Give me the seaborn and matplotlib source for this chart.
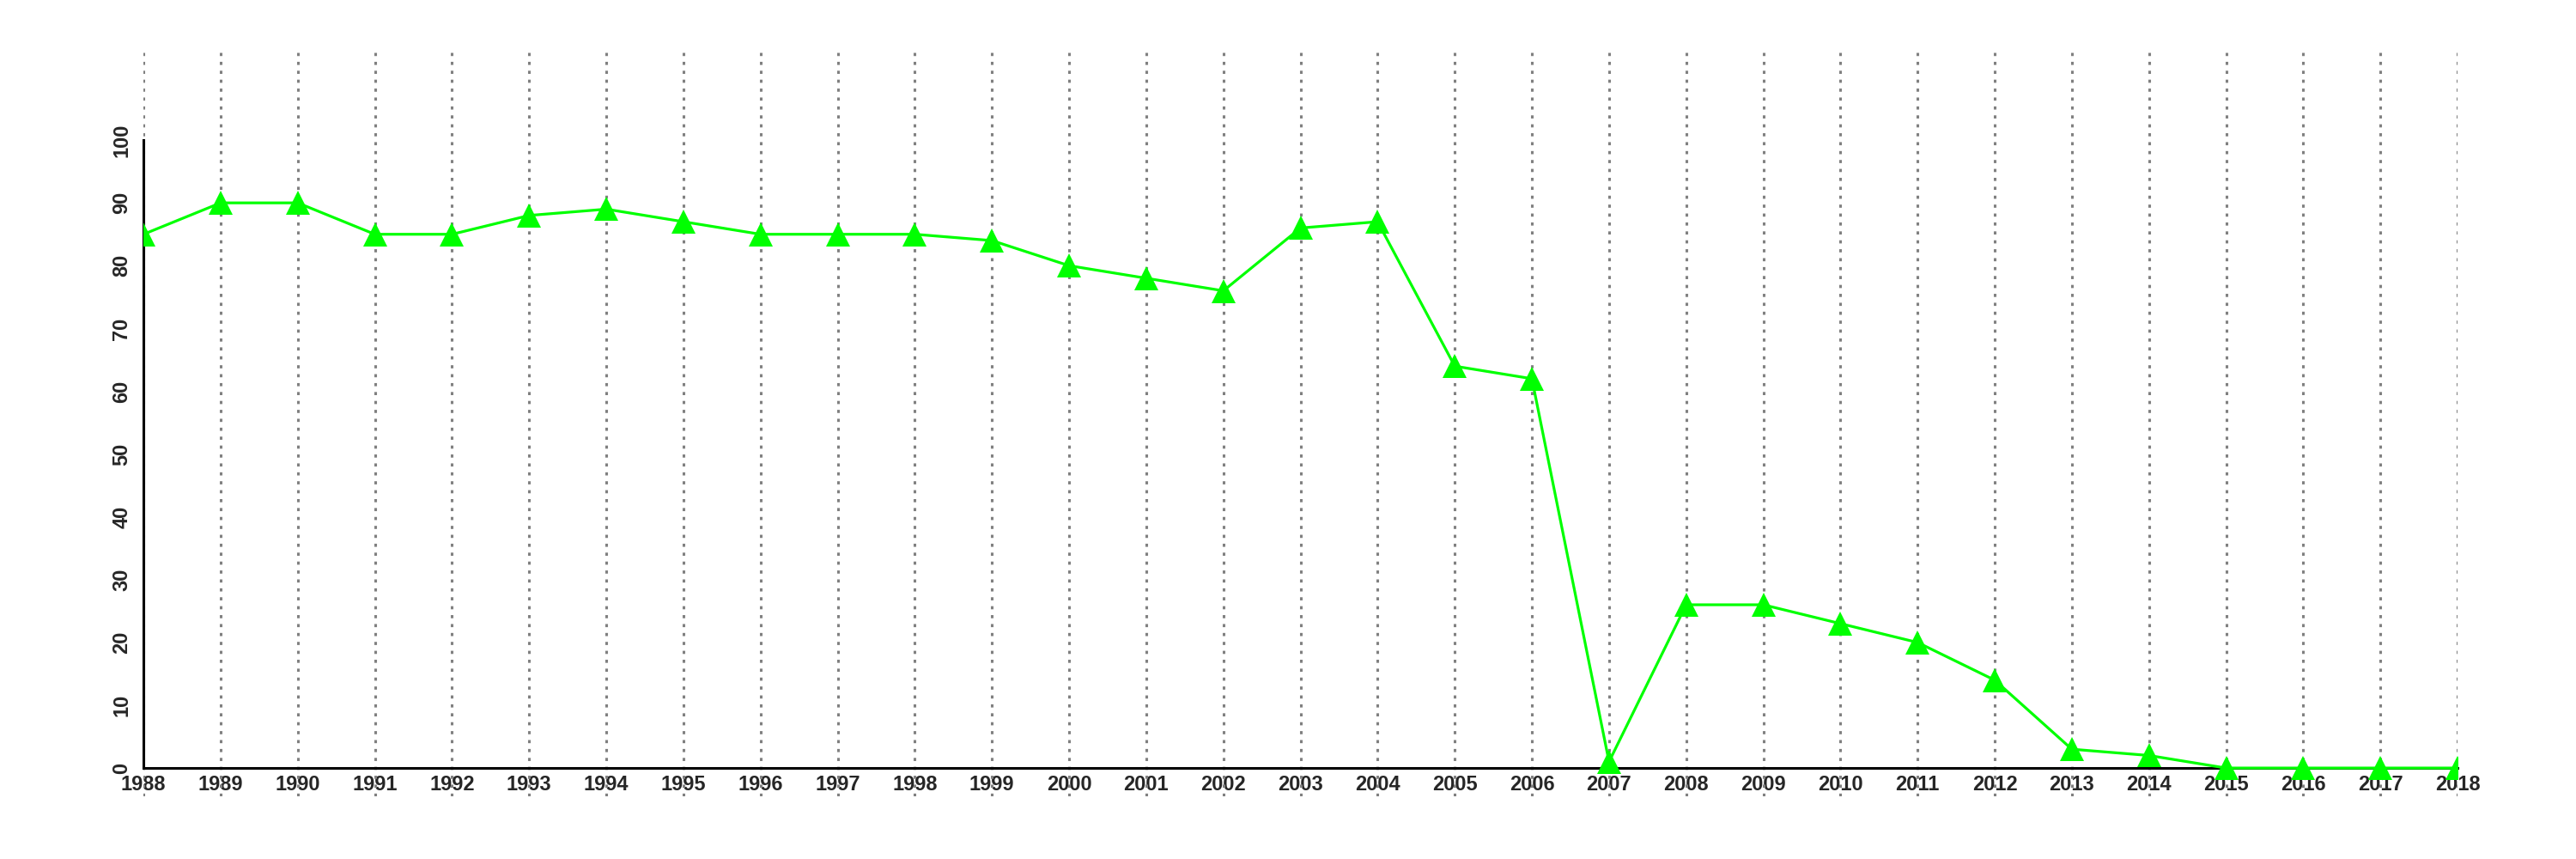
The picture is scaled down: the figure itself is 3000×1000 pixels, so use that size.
import pandas as pd
import matplotlib
matplotlib.use("Agg")
import matplotlib.pyplot as plt
import seaborn as sns

years = list(range(1988, 2019))
values = [85, 90, 90, 85, 85, 88, 89, 87, 85, 85, 85, 84, 80, 78, 76, 86, 87,
          64, 62, 1, 26, 26, 23, 20, 14, 3, 2, 0, 0, 0, 0]
y_ticks = [0, 10, 20, 30, 40, 50, 60, 70, 80, 90, 100]

df = pd.DataFrame({"year": years, "value": values})

sns.set_style("white")
plt.rcParams["font.family"] = ["Liberation Sans", "DejaVu Sans"]
plt.rcParams["font.weight"] = "bold"
plt.rcParams["font.size"] = 17

fig = plt.figure(figsize=(30, 10), dpi=100)
ax = fig.add_axes([0.0557, 0.073, 0.954 - 0.0557, 0.94 - 0.073])

# dotted year guides spanning the whole plot height
for yr in years:
    ax.axvline(yr, color="#808080", linestyle=(0, (1.2, 2.2)), linewidth=2.2, zorder=1)

sns.lineplot(data=df, x="year", y="value", ax=ax, color="#00ff00", linewidth=2.3,
             marker="^", markersize=20, markeredgewidth=0, zorder=3)

ax.set_xlim(1988, 2018)
ax.set_ylim(-4.5, 114.1)
ax.set_xticks(years)
ax.set_yticks(y_ticks)
ax.set_xticklabels([str(y) for y in years])
ax.set_yticklabels([str(v) for v in y_ticks])

for s in ["top", "right"]:
    ax.spines[s].set_visible(False)
ax.spines["bottom"].set_position(("data", 0))
ax.spines["bottom"].set_bounds(1988, 2018)
ax.spines["left"].set_bounds(0, 100)
for s in ["bottom", "left"]:
    ax.spines[s].set_linewidth(2.2)
    ax.spines[s].set_color("black")
ax.tick_params(axis="x", length=6, width=2, pad=0, color="black", labelsize=17)
ax.tick_params(axis="y", length=6, width=2, pad=4, color="black", labelsize=17,
               labelrotation=90)
for lab in ax.get_xticklabels() + ax.get_yticklabels():
    lab.set_fontweight("bold")
    lab.set_fontsize(17)
for lab in ax.get_yticklabels():
    lab.set_va("center")
ax.set_xlabel("")
ax.set_ylabel("")
ax.grid(False)

plt.savefig("out.png", dpi=100)
